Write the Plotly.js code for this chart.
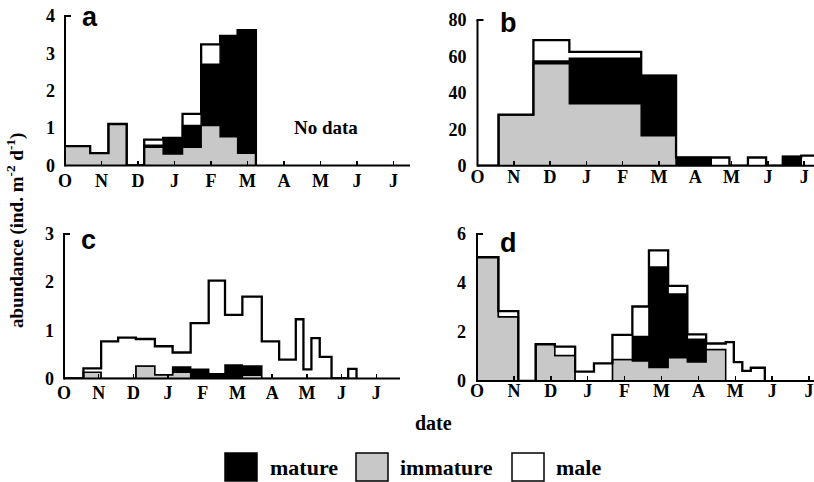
<!DOCTYPE html>
<html><head><meta charset="utf-8">
<script src="https://cdn.plot.ly/plotly-3.0.1.min.js"></script>
<style>html,body{margin:0;padding:0;background:#fff}#chart{width:814px;height:482px}</style>
</head><body><div id="chart"></div>
<script>
// ---- data (x in months from 1 October; bins are [edge_i, edge_i+1)) ----
const monthTicks = [0,1,2,3,4,5,6,7,8,9];
const monthLabels = ['O','N','D','J','F','M','A','M','J','J'];
const seriesNames = ['immature','mature','male'];

// panel a
const aEdges    = [0, 0.69, 1.19, 1.69, 2.17, 2.69, 3.22, 3.73, 4.25, 4.73, 5.23];
const aImmature = [0.52, 0.33, 1.11, 0, 0.49, 0.31, 0.49, 1.07, 0.77, 0.33];
const aMature   = [0, 0, 0, 0, 0.05, 0.43, 0.58, 1.64, 2.70, 3.29];
const aMale     = [0, 0, 0, 0, 0.15, 0, 0.31, 0.53, 0, 0];

// panel b
const bEdges    = [0, 0.58, 1.54, 2.53, 4.51, 5.47, 6.44, 6.94, 7.45, 7.95, 8.41, 8.92, 9.4];
const bImmature = [0, 28, 56, 34, 16.5, 0, 0, 0, 0, 0, 0, 0];
const bMature   = [0, 0, 1.5, 25, 33, 4.5, 0, 0, 0, 0, 5, 0];
const bMale     = [0, 0, 11.5, 3.5, 0, 0, 4.5, 0, 4.5, 0, 0, 5.5];

// panel c
const cEdges    = [0, 0.56, 1.07, 1.56, 2.07, 2.62, 3.13, 3.65, 4.17, 4.64, 5.14, 5.7, 6.2, 6.68, 6.9, 7.13, 7.37, 7.71, 8.19, 8.43];
const cImmature = [0, 0.13, 0, 0, 0.26, 0.08, 0.13, 0.02, 0, 0, 0.07, 0, 0, 0, 0, 0, 0, 0, 0];
const cMature   = [0, 0, 0, 0, 0, 0, 0.11, 0.17, 0.1, 0.28, 0.19, 0, 0, 0, 0, 0, 0, 0, 0];
const cMale     = [0, 0.08, 0.77, 0.85, 0.56, 0.59, 0.30, 0.96, 1.93, 1.04, 1.44, 0.77, 0.39, 1.23, 0.19, 0.84, 0.45, 0, 0.2];

// panel d
const dEdges    = [0, 0.58, 1.12, 1.59, 2.11, 2.66, 3.17, 3.67, 4.21, 4.66, 5.18, 5.7, 6.21, 6.74, 6.96, 7.19, 7.42, 7.8];
const dImmature = [5.05, 2.62, 0, 1.5, 1.04, 0, 0, 0.88, 0.82, 0.55, 0.95, 0.78, 1.29, 0, 0, 0, 0];
const dMature   = [0, 0, 0, 0, 0, 0, 0, 0, 1.0, 4.1, 2.6, 0.92, 0, 0, 0, 0, 0];
const dMale     = [0, 0.23, 0, 0, 0.36, 0.38, 0.72, 1.0, 1.22, 0.68, 0.33, 0.2, 0.24, 1.59, 0.77, 0.41, 0.54];

// ---- styling ----
const W = 814, H = 482;
const fillColors = {immature:'#c8c8c8', mature:'#000000', male:'#ffffff'};
const lineWidths = {immature:1.5, mature:1.5, male:2.3};
const serif = 'Liberation Serif, Times New Roman, serif';
const sans = 'Liberation Sans, Arial, sans-serif';
const tickFont = {family:serif, size:18, color:'#000', weight:'bold'};

function panelTraces(edges, imm, mat, male, xa, ya, grp){
  const vals = {immature:imm, mature:mat, male:male};
  return seriesNames.map(n => ({
    type:'scatter', mode:'lines', name:n, showlegend:false,
    x: edges, y: vals[n].concat([0]),
    xaxis: xa, yaxis: ya, stackgroup: grp,
    line:{shape:'hv', color:'#000', width:lineWidths[n]},
    fillcolor: fillColors[n], hoverinfo:'skip'
  }));
}

const data = [].concat(
  panelTraces(aEdges, aImmature, aMature, aMale, 'x', 'y', 'a'),
  panelTraces(bEdges, bImmature, bMature, bMale, 'x2', 'y2', 'b'),
  panelTraces(cEdges, cImmature, cMature, cMale, 'x3', 'y3', 'c'),
  panelTraces(dEdges, dImmature, dMature, dMale, 'x4', 'y4', 'd')
);

const px = p => p / W;
const py = p => 1 - p / H;

// panel frames in pixels: left, right, bottom (y=0), top, month width, y max, y step, label offsets
const frames = [
  {id:'',  l:65,    r:410, b:165.5, t:16,  m:36.5, top:4,  dt:1,  xs:2,  ys:9},
  {id:'2', l:477.5, r:814, b:165.7, t:20,  m:36.3, top:80, dt:20, xs:-2, ys:10},
  {id:'3', l:64,    r:400, b:378.5, t:234, m:34.7, top:3,  dt:1,  xs:1,  ys:9},
  {id:'4', l:477,   r:814, b:381,   t:234, m:36.9, top:6,  dt:2,  xs:-3, ys:10}
];

const layout = {
  width:W, height:H, margin:{l:0, r:0, t:0, b:0},
  paper_bgcolor:'#fff', plot_bgcolor:'rgba(0,0,0,0)', showlegend:false,
  shapes:[], annotations:[]
};

const axisLine = {color:'#000', width:2};
frames.forEach(f => {
  layout['xaxis' + f.id] = {domain:[px(f.l), px(f.r)], range:[0, (f.r - f.l) / f.m], anchor:'y' + f.id,
    tickmode:'array', tickvals:monthTicks, ticktext:monthLabels,
    ticks:'inside', ticklen:5, tickwidth:1.5, tickcolor:'#000',
    showline:false, showgrid:false, zeroline:false,
    tickfont:tickFont, ticklabelstandoff:f.xs, fixedrange:true};
  layout['yaxis' + f.id] = {domain:[py(f.b), py(f.t)], range:[0, f.top], anchor:'x' + f.id,
    tickmode:'linear', tick0:0, dtick:f.dt, ticks:'',
    showline:false, showgrid:false, zeroline:false,
    tickfont:tickFont, ticklabelstandoff:f.ys, fixedrange:true};
  // axis lines and the small cap at the top of each y axis
  layout.shapes.push(
    {type:'line', xref:'paper', yref:'paper', x0:px(f.l), x1:px(f.r), y0:py(f.b), y1:py(f.b), line:axisLine, layer:'above'},
    {type:'line', xref:'paper', yref:'paper', x0:px(f.l), x1:px(f.l), y0:py(f.b + 1), y1:py(f.t), line:axisLine, layer:'above'},
    {type:'line', xref:'paper', yref:'paper', x0:px(f.l - 1), x1:px(f.l + 6), y0:py(f.t), y1:py(f.t), line:axisLine, layer:'above'}
  );
});

function legendBox(x0, x1, color){
  return {type:'rect', xref:'paper', yref:'paper', x0:px(x0), x1:px(x1), y0:py(481), y1:py(453),
    fillcolor:color, line:{color:'#000', width:1.5}};
}
layout.shapes.push(
  legendBox(225, 257, fillColors.mature),
  legendBox(356, 388, fillColors.immature),
  legendBox(512, 544, fillColors.male)
);

function txt(x, y, text, font, extra){
  return Object.assign({xref:'paper', yref:'paper', x:px(x), y:py(y), text:text,
    showarrow:false, font:font, xanchor:'center', yanchor:'middle'}, extra || {});
}
const letterFont = {family:sans, size:27, color:'#000', weight:'bold'};
const labelFont = {family:serif, size:19, color:'#000', weight:'bold'};
const legendFont = {family:serif, size:22, color:'#000', weight:'bold'};

layout.annotations.push(
  txt(90, 17, 'a', letterFont),
  txt(508, 23, 'b', letterFont),
  txt(88, 240, 'c', letterFont),
  txt(508, 243, 'd', letterFont),
  txt(326, 128, 'No data', labelFont),
  txt(433, 423, 'date', {family:serif, size:20, color:'#000', weight:'bold'}),
  txt(15, 231, 'abundance (ind. m<sup>-2</sup> d<sup>-1</sup>)', labelFont, {textangle:-90}),
  txt(268, 467, 'mature', legendFont, {xanchor:'left'}),
  txt(398, 467, 'immature', legendFont, {xanchor:'left'}),
  txt(554, 467, 'male', legendFont, {xanchor:'left'})
);

Plotly.newPlot('chart', data, layout, {staticPlot:true, displayModeBar:false});
</script>
</body></html>
